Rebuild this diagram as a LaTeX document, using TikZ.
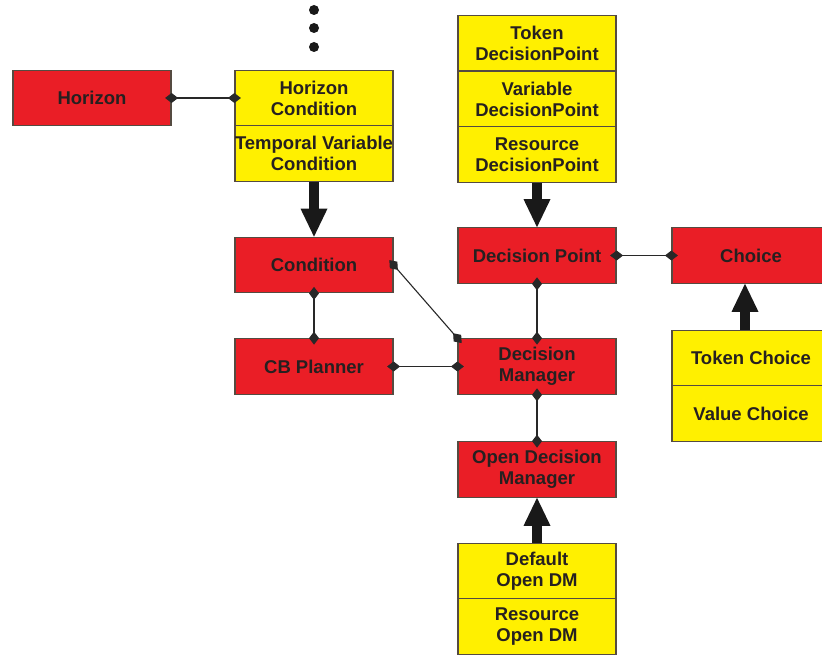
\documentclass[tikz,border=0pt]{standalone}
\usepackage{fontspec}
\setmainfont{Liberation Sans}
\usetikzlibrary{arrows.meta}
\definecolor{boxred}{RGB}{234,30,38}
\definecolor{boxyel}{RGB}{255,240,0}
\definecolor{edge}{RGB}{85,75,65}
\definecolor{txt}{RGB}{38,32,32}
\definecolor{lnk}{RGB}{40,40,40}
\begin{document}
\begin{tikzpicture}[x=1pt,y=-1pt,
  box/.style={draw=edge,line width=1.2pt,minimum width=158pt,minimum height=55.5pt,
    inner sep=0pt,align=center,font=\bfseries\fontsize{18.5}{21}\selectfont,text=txt},
  redbox/.style={box,fill=boxred},
  yelbox/.style={box,fill=boxyel},
  link/.style={line width=1.1pt,draw=lnk,
    {Diamond[length=13pt,width=10pt]}-{Diamond[length=13pt,width=10pt]},
    shorten <=-6.5pt,shorten >=-6.5pt},
  inh/.style={line width=10pt,draw=black!90,
    -{Triangle[length=28pt,width=27pt,line width=0pt]}},
  dot/.style={circle,fill=black!90,inner sep=0pt,minimum size=10pt}]
\useasboundingbox (0,0) rectangle (822,655);
\clip (0,0) rectangle (822,655);

% dots
\node[dot] (d1) at (314,10) {};
\node[dot] (d2) at (314,28) {};
\node[dot] (d3) at (314,47) {};

% left column
\node[redbox] (hor) at (92,98) {Horizon};
\node[yelbox] (hc) at (314,98) {Horizon\\Condition};
\node[yelbox] (tvc) at (314,153.5) {Temporal Variable\\Condition};
\node[redbox] (cond) at (314,265) {Condition};
\node[redbox] (cbp) at (314,366.5) {CB Planner};

% middle column
\node[yelbox] (tdp) at (537,43) {Token\\DecisionPoint};
\node[yelbox] (vdp) at (537,99) {Variable\\DecisionPoint};
\node[yelbox] (rdp) at (537,154.5) {Resource\\DecisionPoint};
\node[redbox] (dp) at (537,255.5) {Decision Point};
\node[redbox] (dm) at (537,366.5) {Decision\\Manager};
\node[redbox] (odm) at (537,469.5) {Open Decision\\Manager};
\node[yelbox] (ddm) at (537,571) {Default\\Open DM};
\node[yelbox] (rdm) at (537,626.5) {Resource\\Open DM};

% right column
\node[redbox] (ch) at (751,255.5) {Choice};
\node[yelbox] (tc) at (751,358) {Token Choice};
\node[yelbox] (vc) at (751,413.5) {Value Choice};

% associations
\draw[link] (hor.east) -- (hc.west);
\draw[link] (cond.south) -- (cbp.north);
\draw[link] (cbp.east) -- (dm.west);
\draw[link] (cond.east) -- (dm.north west);
\draw[link] (dp.south) -- (dm.north);
\draw[link] (dm.south) -- (odm.north);
\draw[link] (dp.east) -- (ch.west);

% inheritance arrows
\draw[inh] (tvc.south) -- (cond.north);
\draw[inh] (rdp.south) -- (dp.north);
\draw[inh] (ddm.north) -- (odm.south);
\draw[inh] ([xshift=-6pt]tc.north) -- ([xshift=-6pt]ch.south);
\end{tikzpicture}
\end{document}
